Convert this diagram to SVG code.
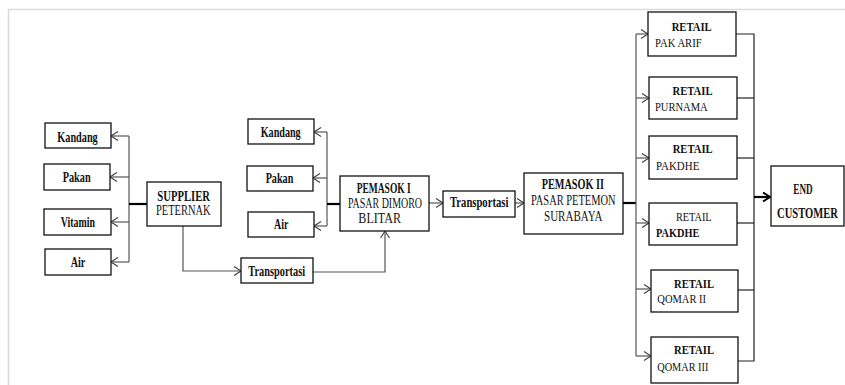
<svg xmlns="http://www.w3.org/2000/svg" width="845" height="385" viewBox="0 0 845 385">
<style>
.box{fill:#fff;stroke:#111;stroke-width:1.3}
.t{font-family:"Liberation Serif","Times New Roman",serif;font-size:14.5px;fill:#111;text-anchor:middle}
.s{font-family:"Liberation Serif","Times New Roman",serif;font-size:13.5px;fill:#111}
.m{text-anchor:middle}
.b{font-weight:bold}
.c{fill:none;stroke:#555;stroke-width:1.2}
.d{fill:none;stroke:#222;stroke-width:1.2}
.k{fill:none;stroke:#000;stroke-width:2.2}
</style>
<defs>
<marker id="ar" markerUnits="userSpaceOnUse" markerWidth="10" markerHeight="12" refX="8" refY="5" orient="auto">
<path d="M1,0.5 L8,5 L1,9.5" fill="none" stroke="#444" stroke-width="1.2"/>
</marker>
<marker id="ak" markerUnits="userSpaceOnUse" markerWidth="10" markerHeight="12" refX="8" refY="5" orient="auto">
<path d="M1,0.5 L8,5 L1,9.5" fill="none" stroke="#000" stroke-width="2"/>
</marker>
</defs>
<rect width="845" height="385" fill="#fff"/>
<path d="M8.5,385 V9.5 H845" fill="none" stroke="#dadada" stroke-width="1.6"/>

<g id="connectors">
<path class="c" d="M129,136 V262"/>
<path class="c" d="M129,136 H111" marker-end="url(#ar)"/>
<path class="c" d="M129,177 H110" marker-end="url(#ar)"/>
<path class="c" d="M129,222 H111" marker-end="url(#ar)"/>
<path class="c" d="M129,262 H111" marker-end="url(#ar)"/>
<path class="k" d="M129,204 H147"/>
<path class="c" d="M183,226 V271 H241" marker-end="url(#ar)"/>
<path class="c" d="M313,272 H385 V231" marker-end="url(#ar)"/>
<path class="c" d="M327,132 V226"/>
<path class="c" d="M327,132 H314" marker-end="url(#ar)"/>
<path class="c" d="M327,178 H313" marker-end="url(#ar)"/>
<path class="c" d="M327,226 H314" marker-end="url(#ar)"/>
<path class="k" d="M327,204 H340"/>
<path class="c" d="M429,203 H443" marker-end="url(#ar)"/>
<path class="c" d="M515,203 H524" marker-end="url(#ar)"/>
<path class="k" d="M623,203 H636"/>
<path class="c" d="M636,34 V356"/>
<path class="c" d="M636,34 H648" marker-end="url(#ar)"/>
<path class="c" d="M636,98 H649" marker-end="url(#ar)"/>
<path class="c" d="M636,158 H649" marker-end="url(#ar)"/>
<path class="c" d="M636,223 H649" marker-end="url(#ar)"/>
<path class="c" d="M636,289 H651" marker-end="url(#ar)"/>
<path class="c" d="M636,356 H651" marker-end="url(#ar)"/>
<path class="d" d="M736,34 H754 V361 H738"/>
<path class="d" d="M737,98 H754"/>
<path class="d" d="M737,158 H754"/>
<path class="d" d="M737,223 H754"/>
<path class="d" d="M738,290 H754"/>
<path class="k" d="M754,197 H770" marker-end="url(#ak)"/>
</g>

<g id="kandang1"><rect class="box" x="45" y="123" width="66" height="25"/><text class="t b" x="77.5" y="141.5" textLength="40.4" lengthAdjust="spacingAndGlyphs">Kandang</text></g>
<g id="pakan1"><rect class="box" x="44" y="164" width="66" height="26"/><text class="t b" x="76.7" y="181.7" textLength="28" lengthAdjust="spacingAndGlyphs">Pakan</text></g>
<g id="vitamin"><rect class="box" x="44" y="209" width="67" height="26"/><text class="t b" x="77.8" y="226.7" textLength="34.3" lengthAdjust="spacingAndGlyphs">Vitamin</text></g>
<g id="air1"><rect class="box" x="45" y="249" width="66" height="26"/><text class="t b" x="78" y="266.7" textLength="14.7" lengthAdjust="spacingAndGlyphs">Air</text></g>
<g id="supplier"><rect class="box" x="147" y="182" width="74" height="44"/><text class="t b" x="183.7" y="200.5" textLength="52.7" lengthAdjust="spacingAndGlyphs">SUPPLIER</text><text class="t" x="183.3" y="215" textLength="54.7" lengthAdjust="spacingAndGlyphs">PETERNAK</text></g>
<g id="transportasi1"><rect class="box" x="241" y="258" width="72" height="25"/><text class="t b" x="276.7" y="275.7" textLength="56.7" lengthAdjust="spacingAndGlyphs">Transportasi</text></g>
<g id="kandang2"><rect class="box" x="248" y="119" width="66" height="25"/><text class="t b" x="280.7" y="137.3" textLength="40" lengthAdjust="spacingAndGlyphs">Kandang</text></g>
<g id="pakan2"><rect class="box" x="247" y="166" width="66" height="25"/><text class="t b" x="279.5" y="182.7" textLength="27.7" lengthAdjust="spacingAndGlyphs">Pakan</text></g>
<g id="air2"><rect class="box" x="248" y="212" width="66" height="25"/><text class="t b" x="281.2" y="229.3" textLength="14.3" lengthAdjust="spacingAndGlyphs">Air</text></g>
<g id="pemasok1"><rect class="box" x="340" y="176" width="89" height="55"/><text class="t b" x="383.7" y="193.3" textLength="54" lengthAdjust="spacingAndGlyphs">PEMASOK I</text><text class="t" x="385" y="207.7" textLength="74" lengthAdjust="spacingAndGlyphs">PASAR DIMORO</text><text class="t" x="379.7" y="222.7" textLength="42.7" lengthAdjust="spacingAndGlyphs">BLITAR</text></g>
<g id="transportasi2"><rect class="box" x="443" y="191" width="72" height="26"/><text class="t b" x="479.2" y="207.3" textLength="58.3" lengthAdjust="spacingAndGlyphs">Transportasi</text></g>
<g id="pemasok2"><rect class="box" x="524" y="173" width="99" height="61"/><text class="t b" x="572.8" y="189.3" textLength="62.3" lengthAdjust="spacingAndGlyphs">PEMASOK II</text><text class="t" x="573.3" y="205" textLength="84.7" lengthAdjust="spacingAndGlyphs">PASAR PETEMON</text><text class="t" x="573.2" y="221" textLength="58.3" lengthAdjust="spacingAndGlyphs">SURABAYA</text></g>
<g id="retail-pakarif"><rect class="box" x="648" y="12" width="88" height="44"/><text class="s m b" x="691.7" y="30.7" textLength="40" lengthAdjust="spacingAndGlyphs">RETAIL</text><text class="s" x="655" y="46.7" textLength="46.7" lengthAdjust="spacingAndGlyphs">PAK ARIF</text></g>
<g id="retail-purnama"><rect class="box" x="649" y="77" width="88" height="42"/><text class="s m b" x="692.5" y="95" textLength="40" lengthAdjust="spacingAndGlyphs">RETAIL</text><text class="s" x="655" y="110.7" textLength="52.7" lengthAdjust="spacingAndGlyphs">PURNAMA</text></g>
<g id="retail-pakdhe1"><rect class="box" x="649" y="136" width="88" height="43"/><text class="s m b" x="692.7" y="153.3" textLength="40" lengthAdjust="spacingAndGlyphs">RETAIL</text><text class="s" x="656" y="170" textLength="43.3" lengthAdjust="spacingAndGlyphs">PAKDHE</text></g>
<g id="retail-pakdhe2"><rect class="box" x="649" y="203" width="88" height="42"/><text class="s m" x="693.8" y="221" textLength="35.7" lengthAdjust="spacingAndGlyphs">RETAIL</text><text class="s b" x="656" y="236.7" textLength="43.3" lengthAdjust="spacingAndGlyphs">PAKDHE</text></g>
<g id="retail-qomar2"><rect class="box" x="651" y="270" width="87" height="42"/><text class="s m b" x="694" y="287.7" textLength="40" lengthAdjust="spacingAndGlyphs">RETAIL</text><text class="s" x="657.3" y="303.3" textLength="48.7" lengthAdjust="spacingAndGlyphs">QOMAR II</text></g>
<g id="retail-qomar3"><rect class="box" x="651" y="337" width="87" height="46"/><text class="s m b" x="694" y="354.3" textLength="40" lengthAdjust="spacingAndGlyphs">RETAIL</text><text class="s" x="657.3" y="371" textLength="51" lengthAdjust="spacingAndGlyphs">QOMAR III</text></g>
<g id="end-customer"><rect class="box" x="771" y="166" width="73" height="60"/><text class="t b" x="803" y="194" textLength="19.3" lengthAdjust="spacingAndGlyphs">END</text><text class="t b" transform="translate(807.5,217.7) scale(0.73,1)" x="0" y="0">CUSTOMER</text></g>
</svg>
